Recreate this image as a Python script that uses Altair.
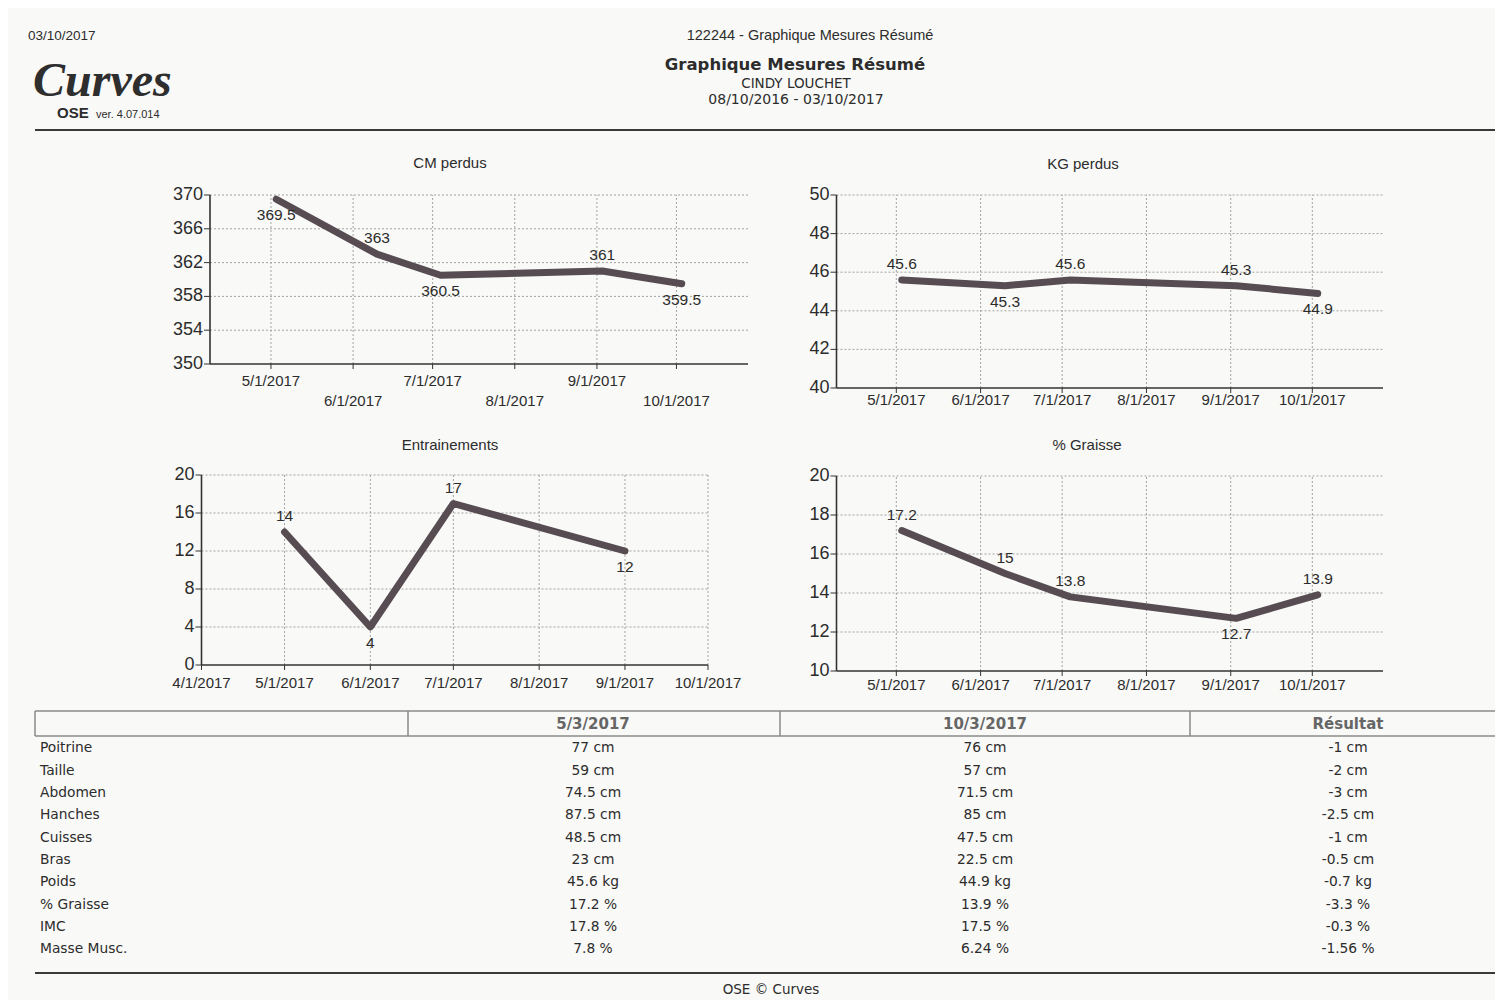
import altair as alt

# ---------------- data ----------------
measure_dates = ["2017-05-03", "2017-06-10", "2017-07-04", "2017-09-03", "2017-10-03"]
cm_values = [369.5, 363, 360.5, 361, 359.5]
kg_values = [45.6, 45.3, 45.6, 45.3, 44.9]
fat_values = [17.2, 15, 13.8, 12.7, 13.9]
workout_dates = ["2017-05-01", "2017-06-01", "2017-07-01", "2017-09-01"]
workout_values = [14, 4, 17, 12]

month_ticks = ["2017-05-01", "2017-06-01", "2017-07-01", "2017-08-01", "2017-09-01", "2017-10-01"]
workout_xticks = ["2017-04-01"] + month_ticks
cm_yticks = [350, 354, 358, 362, 366, 370]
kg_yticks = [40, 42, 44, 46, 48, 50]
workout_yticks = [0, 4, 8, 12, 16, 20]
fat_yticks = [10, 12, 14, 16, 18, 20]

table_rows = ["Poitrine", "Taille", "Abdomen", "Hanches", "Cuisses", "Bras",
              "Poids", "% Graisse", "IMC", "Masse Musc."]
start_col = ["77 cm", "59 cm", "74.5 cm", "87.5 cm", "48.5 cm", "23 cm",
             "45.6 kg", "17.2 %", "17.8 %", "7.8 %"]
end_col = ["76 cm", "57 cm", "71.5 cm", "85 cm", "47.5 cm", "22.5 cm",
           "44.9 kg", "13.9 %", "17.5 %", "6.24 %"]
result_col = ["-1 cm", "-2 cm", "-3 cm", "-2.5 cm", "-1 cm", "-0.5 cm",
              "-0.7 kg", "-3.3 %", "-0.3 %", "-1.56 %"]
table_headers = ["5/3/2017", "10/3/2017", "Résultat"]

# label placement (style only)
cm_sides = ["below", "above", "below", "above", "below"]
kg_sides = ["above", "below", "above", "above", "below"]
fat_sides = ["above", "above", "above", "below", "above"]
workout_sides = ["above", "below", "above", "below"]

# ---------------- layout / style ----------------
W, H = 1487, 992
M = 8  # page margin
SANS = "Liberation Sans"
DV = "DejaVu Sans"
TEXT = "#2c2c2c"
AX = "#333333"
GRID = "#a3a3a3"
LINE = "#574c52"


def iso(s):
    return s + "T00:00:00"


def dt(s):
    y, m, d = map(int, s.split("-"))
    return alt.DateTime(year=y, month=m, date=d)


def mdy(s):
    y, m, d = map(int, s.split("-"))
    return f"{m}/{d}/{y}"


def T(text, x, y, size, font=SANS, weight="normal", style="normal",
      align="center", baseline="middle", color=TEXT):
    return alt.Chart(alt.InlineData(values=[{}])).mark_text(
        text=text, font=font, fontSize=size, fontWeight=weight, fontStyle=style,
        align=align, baseline=baseline, color=color
    ).encode(x=alt.value(x - M), y=alt.value(y - M))


def R(x1, y1, x2=None, y2=None, color=AX, width=1.0, dash=None):
    enc = dict(x=alt.value(x1 - M), y=alt.value(y1 - M))
    if x2 is not None:
        enc["x2"] = alt.value(x2 - M)
    if y2 is not None:
        enc["y2"] = alt.value(y2 - M)
    kw = dict(color=color, strokeWidth=width)
    if dash:
        kw["strokeDash"] = dash
    return alt.Chart(alt.InlineData(values=[{}])).mark_rule(**kw).encode(**enc)


def panel(dates, values, sides, xticks, yticks, xdom, xpx, ypx, label_rows):
    """label_rows: pixel y (page) of the x tick label rows, cycled over the ticks."""
    xs = alt.Scale(type="time", domain=[dt(xdom[0]), dt(xdom[1])],
                   range=[xpx[0] - M, xpx[1] - M], nice=False)
    ys = alt.Scale(type="linear", domain=[yticks[0], yticks[-1]],
                   range=[ypx[0] - M, ypx[1] - M], nice=False, zero=False)
    X = lambda f: alt.X(f"{f}:T", scale=xs, axis=None)
    Y = lambda f: alt.Y(f"{f}:Q", scale=ys, axis=None)

    recs = [{"d": iso(d), "v": v, "lbl": f"{v:g}", "side": s}
            for d, v, s in zip(dates, values, sides)]
    ldata = alt.InlineData(values=recs, format={"parse": {"d": "date"}})
    vg = alt.InlineData(values=[{"g": iso(t), "lo": yticks[0], "hi": yticks[-1],
                                 "lab": mdy(t), "row": i % len(label_rows)}
                                for i, t in enumerate(xticks)],
                        format={"parse": {"g": "date"}})
    hg = alt.InlineData(values=[{"v": y, "vl": str(y), "a": iso(xdom[0]), "b": iso(xdom[1])}
                                for y in yticks],
                        format={"parse": {"a": "date", "b": "date"}})
    ax = alt.InlineData(values=[{"a": iso(xdom[0]), "b": iso(xdom[1]),
                                 "lo": yticks[0], "hi": yticks[-1]}],
                        format={"parse": {"a": "date", "b": "date"}})

    gridkw = dict(color=GRID, strokeWidth=1, strokeDash=[2, 2])
    vgrid = alt.Chart(vg).mark_rule(**gridkw).encode(x=X("g"), y=Y("lo"), y2=alt.Y2("hi"))
    hgrid = alt.Chart(hg).transform_filter(f"datum.v > {yticks[0]}").mark_rule(**gridkw).encode(
        y=Y("v"), x=X("a"), x2=alt.X2("b"))

    xdomain = alt.Chart(ax).mark_rule(color=AX, strokeWidth=1.6).encode(
        x=X("a"), x2=alt.X2("b"), y=Y("lo"))
    ydomain = alt.Chart(ax).mark_rule(color=AX, strokeWidth=1.6).encode(
        x=X("a"), y=Y("lo"), y2=alt.Y2("hi"))
    xtick = alt.Chart(vg).mark_rule(color=AX, strokeWidth=1).encode(
        x=X("g"), y=Y("lo"), y2=alt.value(ypx[0] - M + 5))
    ytick = alt.Chart(hg).mark_rule(color=AX, strokeWidth=1).encode(
        y=Y("v"), x=X("a"), x2=alt.value(xpx[0] - M - 6))
    ylab = alt.Chart(hg).mark_text(align="right", baseline="middle", font=SANS,
                                   fontSize=18, color=TEXT).encode(
        y=Y("v"), x=alt.value(xpx[0] - M - 7), text="vl:N")
    xlabs = []
    for r, ypos in enumerate(label_rows):
        xlabs.append(alt.Chart(vg).transform_filter(f"datum.row == {r}").mark_text(
            align="center", baseline="middle", font=SANS, fontSize=15, color=TEXT).encode(
            x=X("g"), y=alt.value(ypos - M), text="lab:N"))

    line = alt.Chart(ldata).mark_line(color=LINE, strokeWidth=7, strokeCap="round",
                                      strokeJoin="round").encode(x=X("d"), y=Y("v"))
    above = alt.Chart(ldata).transform_filter("datum.side == 'above'").mark_text(
        dy=-16, font=SANS, fontSize=15.5, color=TEXT).encode(x=X("d"), y=Y("v"), text="lbl:N")
    below = alt.Chart(ldata).transform_filter("datum.side == 'below'").mark_text(
        dy=16, font=SANS, fontSize=15.5, color=TEXT).encode(x=X("d"), y=Y("v"), text="lbl:N")
    return alt.layer(vgrid, hgrid, xdomain, ydomain, xtick, ytick, ylab, *xlabs,
                     line, above, below)


cm_panel = panel(measure_dates, cm_values, cm_sides, month_ticks, cm_yticks,
                 ("2017-04-08", "2017-10-28"), (210, 748), (364, 195), [381, 401])
kg_panel = panel(measure_dates, kg_values, kg_sides, month_ticks, kg_yticks,
                 ("2017-04-09", "2017-10-27"), (836.5, 1383), (388, 195), [400])
wo_panel = panel(workout_dates, workout_values, workout_sides, workout_xticks, workout_yticks,
                 ("2017-04-01", "2017-10-01"), (201.5, 708), (665, 475), [683])
fat_panel = panel(measure_dates, fat_values, fat_sides, month_ticks, fat_yticks,
                  ("2017-04-09", "2017-10-27"), (836.5, 1383), (671, 476), [685])

# ---------------- table ----------------
trecs = [{"row": r, "a": a, "b": b, "c": c}
         for r, a, b, c in zip(table_rows, start_col, end_col, result_col)]
tdata = alt.InlineData(values=trecs)
ty = alt.Scale(type="point", domain=table_rows, range=[748.3 - M, 949.3 - M], padding=0)


def tcol(field, x, align):
    return alt.Chart(tdata).mark_text(align=align, font=DV, fontSize=13.8, color=TEXT).encode(
        x=alt.value(x - M), y=alt.Y("row:N", scale=ty, axis=None), text=f"{field}:N")


table = alt.layer(tcol("row", 40, "left"), tcol("a", 593, "center"),
                  tcol("b", 985, "center"), tcol("c", 1348, "center"))

# ---------------- static page furniture ----------------
deco = [
    T("03/10/2017", 28, 36, 13.5, align="left"),
    T("122244 - Graphique Mesures Résumé", 810, 36, 14.5),
    T("Graphique Mesures Résumé", 795, 65, 16.5, font=DV, weight="bold"),
    T("CINDY LOUCHET", 796, 84, 13.5, font=DV),
    T("08/10/2016 - 03/10/2017", 796, 100, 14, font=DV),
    T("Curves", 33, 96, 48, font="Liberation Serif", weight="bold", style="italic",
      align="left", baseline="alphabetic", color="#2e2e2e"),
    T("OSE", 57, 118, 15, weight="bold", align="left", baseline="alphabetic"),
    T("ver. 4.07.014", 96, 118, 11, align="left", baseline="alphabetic"),
    T("CM perdus", 450, 163, 15),
    T("KG perdus", 1083, 164, 15),
    T("Entrainements", 450, 445, 15),
    T("% Graisse", 1087, 445, 15),
    T(table_headers[0], 593, 724, 15, font=DV, weight="bold", color="#666666"),
    T(table_headers[1], 985, 724, 15, font=DV, weight="bold", color="#666666"),
    T(table_headers[2], 1348, 724, 15, font=DV, weight="bold", color="#666666"),
    T("OSE © Curves", 771, 990, 13.5, font=DV),
    R(35, 130, x2=1503, color="#3a3a3a", width=2),
    R(35, 711, x2=1503, color="#8a8a8a", width=1.5),
    R(35, 736, x2=1503, color="#8a8a8a", width=1.5),
    R(35, 711, y2=736, color="#8a8a8a", width=1.5),
    R(408, 711, y2=736, color="#8a8a8a", width=1.5),
    R(780, 711, y2=736, color="#8a8a8a", width=1.5),
    R(1190, 711, y2=736, color="#8a8a8a", width=1.5),
    R(35, 973, x2=1503, color="#3a3a3a", width=2),
]

chart = alt.layer(
    *deco, cm_panel, kg_panel, wo_panel, fat_panel, table
).resolve_scale(x="independent", y="independent").properties(
    width=W, height=H, padding=0, autosize=alt.AutoSizeParams(type="none")
).configure(background="#f9f9f7").configure_view(stroke=None)

chart.save("out.html", embed_options={"renderer": "svg", "actions": False})
